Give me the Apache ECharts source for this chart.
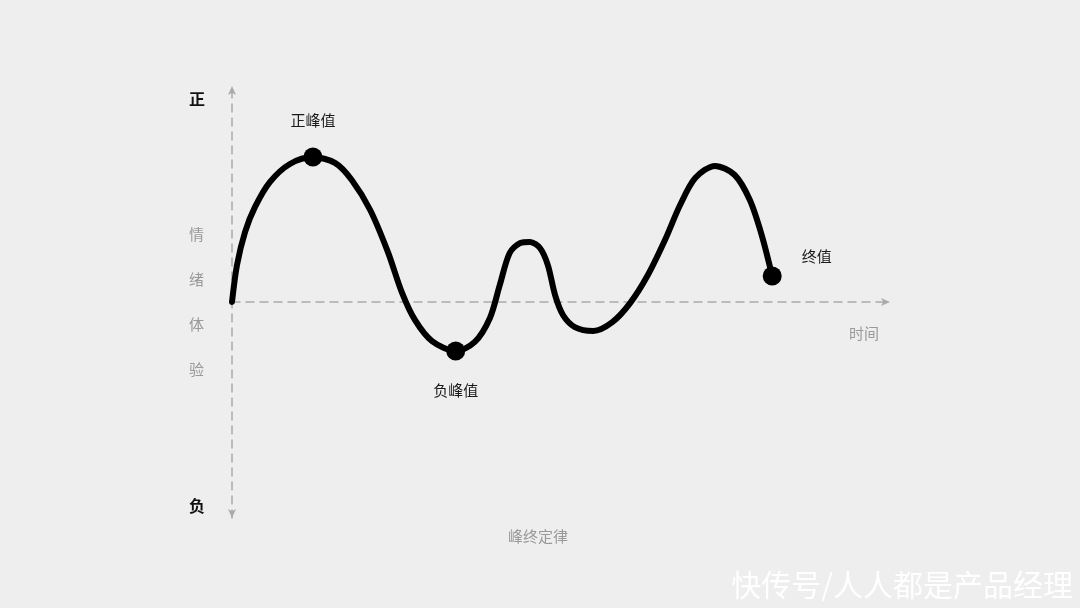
<!DOCTYPE html>
<html>
<head>
<meta charset="utf-8">
<script src="https://cdn.jsdelivr.net/npm/echarts@6/dist/echarts.min.js"></script>
<style>
  html, body { margin: 0; padding: 0; background: #eeeeee; }
  #main { width: 1080px; height: 608px; }
</style>
</head>
<body>
<div id="main"></div>
<script>
// curve: time (0-100) vs feeling (-100..100)
const curveX = [0, 0.76, 1.98, 3.5, 5.78, 8.8, 12.3, 15.65, 18.2, 21.0, 23.7, 25.8, 27.8, 30.4, 34.0,
  36.9, 39.2, 40.7, 42.2, 43.8, 45.3, 46.8, 48.0, 49.1, 50.3, 52.1, 54.9, 57.8, 60.5, 63.2,
  65.8, 68.1, 70.4, 73.4, 76.4, 78.7, 80.5, 82.1];
const curveY = [0, 17.1, 32.4, 44, 55.6, 63.9, 67.1, 64.4, 56.5, 42.6, 23.1, 4.6, -8.3, -18.1, -22.7,
  -18.5, -7.4, 7.9, 22.7, 27.3, 27.8, 25, 17.1, 3.2, -6, -11.6, -13.4, -9.3, -0.5, 12.5,
  28.7, 44.9, 57.4, 63, 58.8, 47.2, 31, 12];

// marked points
const markNames = ['正峰值', '负峰值', '终值'];
const markX = [12.3, 34.0, 82.1];
const markY = [67.1, -22.7, 12];

const sideLabels = ['情', '绪', '体', '验'];

const font = '"Noto Sans CJK SC", "Noto Sans", sans-serif';
const chart = echarts.init(document.getElementById('main'));

const labelPos = [
  { position: 'top', distance: 20 },
  { position: 'bottom', distance: 22 },
  { position: 'right', distance: 20, offset: [0, -20] }
];

const option = {
  backgroundColor: '#eeeeee',
  animation: false,
  textStyle: { fontFamily: font },
  grid: { left: 232, right: 190, top: 86, bottom: 90 },
  xAxis: {
    type: 'value',
    min: 0,
    max: 100,
    axisLine: {
      onZero: true,
      symbol: ['none', 'arrow'],
      symbolSize: [6, 9],
      lineStyle: { color: '#aaaaaa', type: [8, 6], width: 1.5 }
    },
    axisTick: { show: false },
    axisLabel: { show: false },
    splitLine: { show: false }
  },
  yAxis: {
    type: 'value',
    min: -100,
    max: 100,
    axisLine: {
      show: true,
      onZero: true,
      symbol: ['arrow', 'arrow'],
      symbolSize: [6, 9],
      lineStyle: { color: '#aaaaaa', type: [8, 6], width: 1.5 }
    },
    axisTick: { show: false },
    axisLabel: { show: false },
    splitLine: { show: false }
  },
  graphic: [
    { type: 'text', left: 189, top: 91, style: { text: '正', fill: '#111', font: 'bold 16px ' + font } },
    { type: 'text', left: 189, top: 498, style: { text: '负', fill: '#111', font: 'bold 16px ' + font } },
    ...sideLabels.map((t, i) => ({
      type: 'text', left: 189, top: 227 + i * 45,
      style: { text: t, fill: '#999999', font: '15px ' + font }
    })),
    { type: 'text', left: 849, top: 326, style: { text: '时间', fill: '#999999', font: '15px ' + font } },
    { type: 'text', left: 508, top: 529, style: { text: '峰终定律', fill: '#999999', font: '15px ' + font } },
    { type: 'text', right: 7, top: 570,
      style: { text: '快传号/人人都是产品经理', fill: 'rgba(255,255,255,0.95)', font: '30px ' + font } }
  ],
  series: [
    {
      type: 'line',
      data: curveX.map((x, i) => [x, curveY[i]]),
      smooth: 0.3,
      showSymbol: false,
      lineStyle: { color: '#000', width: 6, cap: 'round', join: 'round' },
      z: 2
    },
    {
      type: 'scatter',
      data: markX.map((x, i) => ({
        value: [x, markY[i]],
        name: markNames[i],
        label: Object.assign({
          show: true,
          formatter: '{b}',
          color: '#1a1a1a',
          fontSize: 15,
          fontFamily: font
        }, labelPos[i])
      })),
      symbolSize: 19,
      itemStyle: { color: '#000', opacity: 1 },
      z: 3
    }
  ]
};

chart.setOption(option);
</script>
</body>
</html>
